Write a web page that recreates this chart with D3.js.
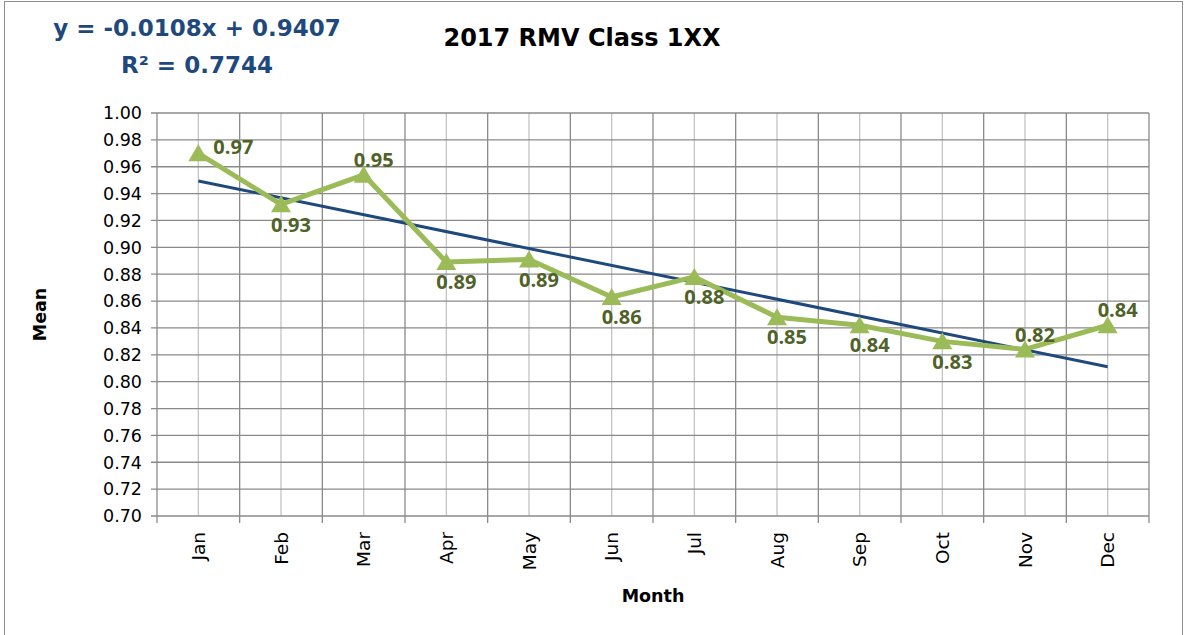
<!DOCTYPE html>
<html>
<head>
<meta charset="utf-8">
<script src="https://cdn.jsdelivr.net/npm/d3@7"></script>
<style>
  body { margin: 0; background: #fff; }
  text { font-family: "DejaVu Sans", sans-serif; }
  .dlab { font-family: "Open Sans", sans-serif; }
</style>
</head>
<body>
<svg id="svg"></svg>
<script>
// data
const months = ["Jan", "Feb", "Mar", "Apr", "May", "Jun", "Jul", "Aug", "Sep", "Oct", "Nov", "Dec"];
const means = [0.970, 0.932, 0.954, 0.889, 0.891, 0.863, 0.878, 0.848, 0.842, 0.830, 0.824, 0.842];
const labelSide = ["right", "below", "above", "below", "below", "below", "below", "below", "below", "below", "above", "above"];
const yTicks = d3.range(0.70, 1.001, 0.02);
const chartTitle = "2017 RMV Class 1XX";
const equationText = "y = -0.0108x + 0.9407";
const r2Text = "R² = 0.7744";

const svgWidth = 1188;
const svgHeight = 635;
const margin = {top: 113, right: 39, bottom: 119, left: 157};
const plotW = svgWidth - margin.left - margin.right;
const plotH = svgHeight - margin.top - margin.bottom;

const svg = d3.select("svg")
    .attr("width", svgWidth)
    .attr("height", svgHeight);

// chart border
svg.append("rect")
    .attr("x", 4.5).attr("y", 1.5)
    .attr("width", 1178).attr("height", 640)
    .attr("fill", "none")
    .attr("stroke", "#8c8c8c");

const x = d3.scaleBand().domain(months).range([0, plotW]);
const y = d3.scaleLinear().domain([0.70, 1.00]).range([plotH, 0]);

const g = svg.append("g").attr("transform", "translate(" + margin.left + "," + margin.top + ")");

// light center lines
g.selectAll(".vmid")
    .data(months)
    .enter()
    .append("line")
    .attr("x1", d => x(d) + x.bandwidth() / 2)
    .attr("x2", d => x(d) + x.bandwidth() / 2)
    .attr("y1", 0).attr("y2", plotH)
    .attr("stroke", "#c3c3c3")
    .attr("stroke-width", 1.3);

// boundary lines
const bounds = months.map(d => x(d)).concat([plotW]);
g.selectAll(".vb")
    .data(bounds)
    .enter()
    .append("line")
    .attr("x1", d => d).attr("x2", d => d)
    .attr("y1", 0).attr("y2", plotH + 7)
    .attr("stroke", "#8a8a8a")
    .attr("stroke-width", 1.3);

// horizontal grid
g.selectAll(".hg")
    .data(yTicks)
    .enter()
    .append("line")
    .attr("x1", -6).attr("x2", plotW)
    .attr("y1", d => y(d)).attr("y2", d => y(d))
    .attr("stroke", "#8a8a8a")
    .attr("stroke-width", 1.3);

// y labels
g.selectAll(".yl")
    .data(yTicks)
    .enter()
    .append("text")
    .attr("x", -15)
    .attr("y", d => y(d))
    .attr("dy", "0.36em")
    .attr("text-anchor", "end")
    .attr("font-size", 17.5)
    .attr("fill", "#000")
    .text(d => d.toFixed(2));

// x labels
g.selectAll(".xl")
    .data(months)
    .enter()
    .append("text")
    .attr("transform", d => "translate(" + (x(d) + x.bandwidth() / 2) + "," + (plotH + 16) + ") rotate(-90)")
    .attr("dy", "0.36em")
    .attr("text-anchor", "end")
    .attr("font-size", 18.5)
    .attr("fill", "#000")
    .text(d => d);

// trendline (least squares over the data)
const xs = means.map((d, i) => i + 1);
const mx = d3.mean(xs), my = d3.mean(means);
const slope = d3.sum(xs, (v, i) => (v - mx) * (means[i] - my)) / d3.sum(xs, v => (v - mx) * (v - mx));
const icpt = my - slope * mx;
const cx = i => x(months[i]) + x.bandwidth() / 2;

g.append("line")
    .attr("x1", cx(0)).attr("y1", y(icpt + slope * 1))
    .attr("x2", cx(11)).attr("y2", y(icpt + slope * 12))
    .attr("stroke", "#1f497d")
    .attr("stroke-width", 3);

// series line
const line = d3.line()
    .x((d, i) => cx(i))
    .y(d => y(d));

g.append("path")
    .datum(means)
    .attr("d", line)
    .attr("fill", "none")
    .attr("stroke", "#9bbb59")
    .attr("stroke-width", 5)
    .attr("stroke-linejoin", "round");

// markers
g.selectAll(".mk")
    .data(means)
    .enter()
    .append("path")
    .attr("d", "M0,-9L10,8L-10,8Z")
    .attr("transform", (d, i) => "translate(" + cx(i) + "," + y(d) + ")")
    .attr("fill", "#9bbb59");

// data labels
g.selectAll(".dl")
    .data(means)
    .enter()
    .append("text")
    .attr("class", "dlab")
    .attr("x", (d, i) => labelSide[i] == "right" ? cx(i) + 15 : cx(i) + 10)
    .attr("y", (d, i) => {
        if (labelSide[i] == "below") return y(d) + 20;
        if (labelSide[i] == "above") return y(d) - 15;
        return y(d) - 7;
    })
    .attr("dy", "0.36em")
    .attr("text-anchor", (d, i) => labelSide[i] == "right" ? "start" : "middle")
    .attr("font-size", 20)
    .attr("font-weight", "bold")
    .attr("fill", "#4f6228")
    .text(d => d.toFixed(2));

// titles
svg.append("text")
    .attr("x", 582).attr("y", 37)
    .attr("dy", "0.36em")
    .attr("text-anchor", "middle")
    .attr("font-size", 24)
    .attr("font-weight", "bold")
    .text(chartTitle);

svg.append("text")
    .attr("x", 197).attr("y", 27.5)
    .attr("dy", "0.36em")
    .attr("text-anchor", "middle")
    .attr("font-size", 23)
    .attr("font-weight", "bold")
    .attr("fill", "#1f497d")
    .text(equationText);

svg.append("text")
    .attr("x", 197).attr("y", 65)
    .attr("dy", "0.36em")
    .attr("text-anchor", "middle")
    .attr("font-size", 23)
    .attr("font-weight", "bold")
    .attr("fill", "#1f497d")
    .text(r2Text);

svg.append("text")
    .attr("transform", "translate(40," + (margin.top + plotH / 2) + ") rotate(-90)")
    .attr("dy", "0.36em")
    .attr("text-anchor", "middle")
    .attr("font-size", 17.5)
    .attr("font-weight", "bold")
    .text("Mean");

svg.append("text")
    .attr("x", 653).attr("y", 596)
    .attr("dy", "0.36em")
    .attr("text-anchor", "middle")
    .attr("font-size", 17.5)
    .attr("font-weight", "bold")
    .text("Month");
</script>
</body>
</html>
